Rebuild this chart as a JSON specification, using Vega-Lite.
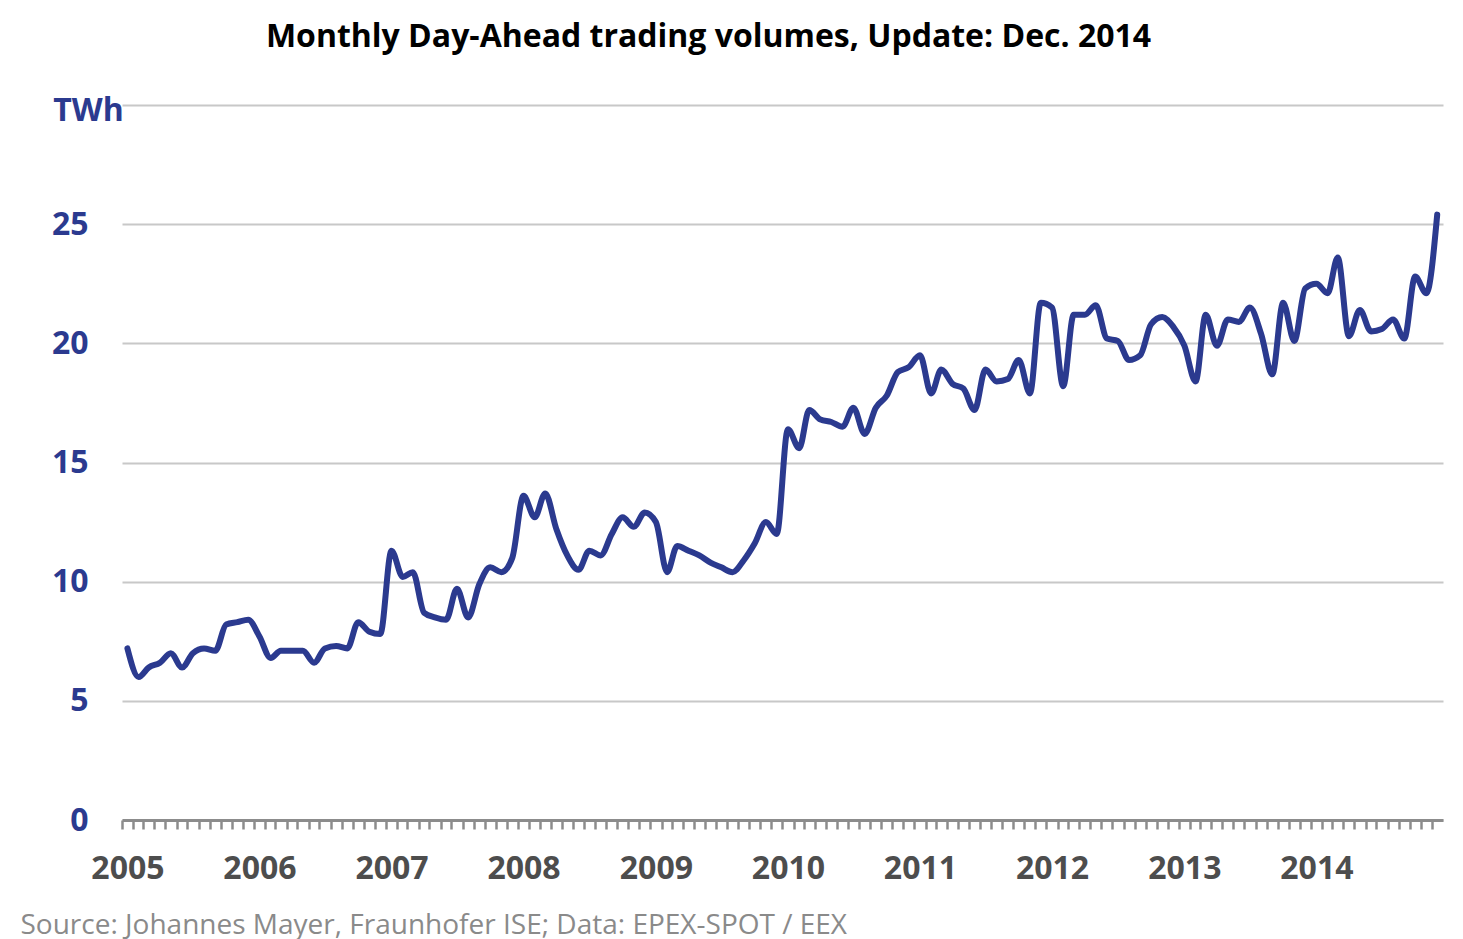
{
  "$schema": "https://vega.github.io/schema/vega-lite/v6.json",
  "width": 1321,
  "height": 715,
  "autosize": {"type": "none"},
  "padding": {"left": 122, "top": 105, "right": 20, "bottom": 119},
  "background": "white",
  "title": {
    "text": "Monthly Day-Ahead trading volumes, Update: Dec. 2014",
    "font": "Open Sans",
    "fontSize": 32,
    "fontWeight": "bold",
    "color": "#000000",
    "anchor": "middle",
    "dx": -74,
    "offset": 40
  },
  "data": {
    "values": [
      {"month": "2005-01-01", "twh": 7.2}, {"month": "2005-02-01", "twh": 6.0}, {"month": "2005-03-01", "twh": 6.4}, {"month": "2005-04-01", "twh": 6.6}, {"month": "2005-05-01", "twh": 7.0}, {"month": "2005-06-01", "twh": 6.4}, {"month": "2005-07-01", "twh": 7.0}, {"month": "2005-08-01", "twh": 7.2}, {"month": "2005-09-01", "twh": 7.1}, {"month": "2005-10-01", "twh": 8.2}, {"month": "2005-11-01", "twh": 8.3}, {"month": "2005-12-01", "twh": 8.4},
      {"month": "2006-01-01", "twh": 7.7}, {"month": "2006-02-01", "twh": 6.8}, {"month": "2006-03-01", "twh": 7.1}, {"month": "2006-04-01", "twh": 7.1}, {"month": "2006-05-01", "twh": 7.1}, {"month": "2006-06-01", "twh": 6.6}, {"month": "2006-07-01", "twh": 7.2}, {"month": "2006-08-01", "twh": 7.3}, {"month": "2006-09-01", "twh": 7.2}, {"month": "2006-10-01", "twh": 8.3}, {"month": "2006-11-01", "twh": 7.9}, {"month": "2006-12-01", "twh": 7.8},
      {"month": "2007-01-01", "twh": 11.3}, {"month": "2007-02-01", "twh": 10.2}, {"month": "2007-03-01", "twh": 10.4}, {"month": "2007-04-01", "twh": 8.7}, {"month": "2007-05-01", "twh": 8.5}, {"month": "2007-06-01", "twh": 8.4}, {"month": "2007-07-01", "twh": 9.7}, {"month": "2007-08-01", "twh": 8.5}, {"month": "2007-09-01", "twh": 9.9}, {"month": "2007-10-01", "twh": 10.6}, {"month": "2007-11-01", "twh": 10.4}, {"month": "2007-12-01", "twh": 11.0},
      {"month": "2008-01-01", "twh": 13.6}, {"month": "2008-02-01", "twh": 12.7}, {"month": "2008-03-01", "twh": 13.7}, {"month": "2008-04-01", "twh": 12.2}, {"month": "2008-05-01", "twh": 11.1}, {"month": "2008-06-01", "twh": 10.5}, {"month": "2008-07-01", "twh": 11.3}, {"month": "2008-08-01", "twh": 11.1}, {"month": "2008-09-01", "twh": 12.0}, {"month": "2008-10-01", "twh": 12.7}, {"month": "2008-11-01", "twh": 12.3}, {"month": "2008-12-01", "twh": 12.9},
      {"month": "2009-01-01", "twh": 12.5}, {"month": "2009-02-01", "twh": 10.4}, {"month": "2009-03-01", "twh": 11.5}, {"month": "2009-04-01", "twh": 11.3}, {"month": "2009-05-01", "twh": 11.1}, {"month": "2009-06-01", "twh": 10.8}, {"month": "2009-07-01", "twh": 10.6}, {"month": "2009-08-01", "twh": 10.4}, {"month": "2009-09-01", "twh": 10.9}, {"month": "2009-10-01", "twh": 11.6}, {"month": "2009-11-01", "twh": 12.5}, {"month": "2009-12-01", "twh": 12.0},
      {"month": "2010-01-01", "twh": 16.4}, {"month": "2010-02-01", "twh": 15.6}, {"month": "2010-03-01", "twh": 17.2}, {"month": "2010-04-01", "twh": 16.8}, {"month": "2010-05-01", "twh": 16.7}, {"month": "2010-06-01", "twh": 16.5}, {"month": "2010-07-01", "twh": 17.3}, {"month": "2010-08-01", "twh": 16.2}, {"month": "2010-09-01", "twh": 17.3}, {"month": "2010-10-01", "twh": 17.8}, {"month": "2010-11-01", "twh": 18.8}, {"month": "2010-12-01", "twh": 19.0},
      {"month": "2011-01-01", "twh": 19.5}, {"month": "2011-02-01", "twh": 17.9}, {"month": "2011-03-01", "twh": 18.9}, {"month": "2011-04-01", "twh": 18.3}, {"month": "2011-05-01", "twh": 18.1}, {"month": "2011-06-01", "twh": 17.2}, {"month": "2011-07-01", "twh": 18.9}, {"month": "2011-08-01", "twh": 18.4}, {"month": "2011-09-01", "twh": 18.5}, {"month": "2011-10-01", "twh": 19.3}, {"month": "2011-11-01", "twh": 17.9}, {"month": "2011-12-01", "twh": 21.7},
      {"month": "2012-01-01", "twh": 21.5}, {"month": "2012-02-01", "twh": 18.2}, {"month": "2012-03-01", "twh": 21.2}, {"month": "2012-04-01", "twh": 21.2}, {"month": "2012-05-01", "twh": 21.6}, {"month": "2012-06-01", "twh": 20.2}, {"month": "2012-07-01", "twh": 20.1}, {"month": "2012-08-01", "twh": 19.3}, {"month": "2012-09-01", "twh": 19.5}, {"month": "2012-10-01", "twh": 20.8}, {"month": "2012-11-01", "twh": 21.1}, {"month": "2012-12-01", "twh": 20.7},
      {"month": "2013-01-01", "twh": 19.9}, {"month": "2013-02-01", "twh": 18.4}, {"month": "2013-03-01", "twh": 21.2}, {"month": "2013-04-01", "twh": 19.9}, {"month": "2013-05-01", "twh": 21.0}, {"month": "2013-06-01", "twh": 20.9}, {"month": "2013-07-01", "twh": 21.5}, {"month": "2013-08-01", "twh": 20.4}, {"month": "2013-09-01", "twh": 18.7}, {"month": "2013-10-01", "twh": 21.7}, {"month": "2013-11-01", "twh": 20.1}, {"month": "2013-12-01", "twh": 22.3},
      {"month": "2014-01-01", "twh": 22.5}, {"month": "2014-02-01", "twh": 22.1}, {"month": "2014-03-01", "twh": 23.6}, {"month": "2014-04-01", "twh": 20.3}, {"month": "2014-05-01", "twh": 21.4}, {"month": "2014-06-01", "twh": 20.5}, {"month": "2014-07-01", "twh": 20.6}, {"month": "2014-08-01", "twh": 21.0}, {"month": "2014-09-01", "twh": 20.2}, {"month": "2014-10-01", "twh": 22.8}, {"month": "2014-11-01", "twh": 22.1}, {"month": "2014-12-01", "twh": 25.4}
    ]
  },
  "mark": {"type": "line", "color": "#2b3a8f", "strokeWidth": 6, "interpolate": "monotone", "strokeCap": "round", "strokeJoin": "round"},
  "encoding": {
    "x": {
      "field": "month",
      "type": "temporal",
      "scale": {
        "type": "utc",
        "domain": [
          {"year": 2004, "month": 12, "date": 17, "utc": true},
          {"year": 2014, "month": 12, "date": 17, "utc": true}
        ]
      },
      "axis": {
        "title": "Source: Johannes Mayer, Fraunhofer ISE; Data: EPEX-SPOT / EEX",
        "titleFont": "Open Sans",
        "titleFontSize": 28,
        "titleFontWeight": "normal",
        "titleColor": "#8a8a8a",
        "titleAnchor": "start",
        "titleAlign": "left",
        "titleBaseline": "alphabetic",
        "titleX": -102,
        "titleY": 113,
        "grid": false,
        "tickCount": {"interval": "month", "step": 1},
        "labelExpr": "utcmonth(datum.value) == 0 ? utcFormat(datum.value, '%Y') : ''",
        "labelOverlap": false,
        "labelFlush": false,
        "labelFont": "Open Sans",
        "labelFontSize": 32,
        "labelFontWeight": "bold",
        "labelColor": "#4d4d4d",
        "labelPadding": 24,
        "domainColor": "#8c8c8c",
        "domainWidth": 3,
        "tickColor": "#8c8c8c",
        "tickWidth": 2.5,
        "tickSize": 9,
        "tickOffset": -5.5,
        "labelOffset": 5.5
      }
    },
    "y": {
      "field": "twh",
      "type": "quantitative",
      "scale": {"domain": [0, 30], "nice": false, "zero": true},
      "axis": {
        "title": null,
        "values": [0, 5, 10, 15, 20, 25, 30],
        "labelExpr": "datum.value == 30 ? 'TWh' : datum.label",
        "domain": false,
        "ticks": false,
        "grid": true,
        "gridColor": "#c8c8c8",
        "gridWidth": 2,
        "labelFont": "Open Sans",
        "labelFontSize": 32,
        "labelFontWeight": "bold",
        "labelColor": "#2b3a8f",
        "labelPadding": 34,
        "labelAlign": {"condition": {"test": "datum.value == 30", "value": "center"}, "value": "right"},
        "labelOffset": {"condition": {"test": "datum.value == 30", "value": 5}, "value": 0}
      }
    }
  },
  "config": {"view": {"stroke": null}}
}
